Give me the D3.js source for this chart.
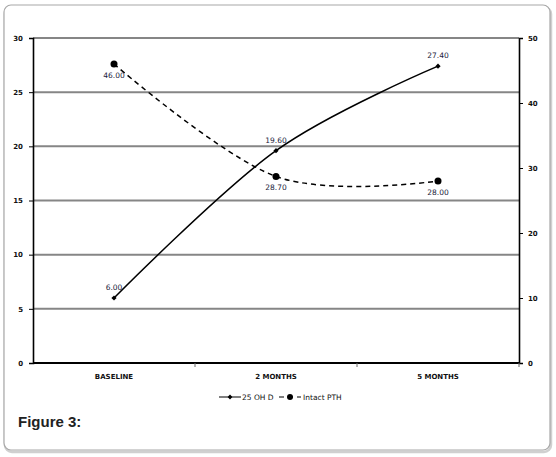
<!DOCTYPE html>
<html><head><meta charset="utf-8">
<script src="https://cdn.jsdelivr.net/npm/d3@7"></script>
<style>body{margin:0;background:#fff;}svg{display:block;}</style>
</head><body>
<svg id="c" width="556" height="457"></svg>
<script>
const categories = ["BASELINE", "2 MONTHS", "5 MONTHS"];
const ohd = [6.00, 19.60, 27.40];
const pth = [46.00, 28.70, 28.00];
const leftTicks = [0, 5, 10, 15, 20, 25, 30];
const rightTicks = [0, 10, 20, 30, 40, 50];
const seriesNames = ["25 OH D", "Intact PTH"];

const svg = d3.select("#c");
const L = 33, R = 519, T = 38, B = 363;
const font = "Tahoma, 'DejaVu Sans', sans-serif";

// frame
svg.append("rect").attr("x", 5).attr("y", 7).attr("width", 546).attr("height", 445)
  .attr("rx", 7).attr("fill", "none").attr("stroke", "#d0d0d0").attr("stroke-width", 2.5);
svg.append("rect").attr("x", 4).attr("y", 5).attr("width", 546).attr("height", 445)
  .attr("rx", 7).attr("fill", "#fff").attr("stroke", "#a8a8a8").attr("stroke-width", 1.2);

const x = d3.scaleBand().domain(categories).range([L, R]);
const yL = d3.scaleLinear().domain([0, 30]).range([B, T]);
const yR = d3.scaleLinear().domain([0, 50]).range([B, T]);

// gridlines
svg.append("g").selectAll("line").data(leftTicks.filter(d => d > 0)).join("line")
  .attr("x1", L).attr("x2", R).attr("y1", d => yL(d)).attr("y2", d => yL(d))
  .attr("stroke", "#868686").attr("stroke-width", 2);

// left axis
const gl = svg.append("g").attr("transform", `translate(${L},0)`)
  .call(d3.axisLeft(yL).tickValues(leftTicks).tickSize(4).tickPadding(6).tickFormat(d3.format("d")));
// right axis
const gr = svg.append("g").attr("transform", `translate(${R},0)`)
  .call(d3.axisRight(yR).tickValues(rightTicks).tickSize(4).tickPadding(5).tickFormat(d3.format("d")));
// bottom axis
const gb = svg.append("g").attr("transform", `translate(0,${B})`)
  .call(d3.axisBottom(x).tickSize(0).tickPadding(11));
// band boundary ticks
svg.append("g").selectAll("line").data(categories).join("line")
  .attr("x1", d => x(d) + x.bandwidth()).attr("x2", d => x(d) + x.bandwidth())
  .attr("y1", B).attr("y2", B + 4).attr("stroke", "#666").attr("stroke-width", 1);

[gl, gr, gb].forEach(g => {
  g.select(".domain").attr("stroke", "#000").attr("stroke-width", 1.6);
  g.selectAll(".tick line").attr("stroke", "#000");
  g.selectAll("text").attr("font-family", font).attr("font-size", 7).attr("font-weight", "bold").attr("fill", "#111");
});
gb.select(".domain").attr("d", `M${L},0H${R}`).attr("stroke-width", 1.8);

const cx = d => x(d) + x.bandwidth() / 2;
const curve = d3.curveCardinal.tension(0);

// 25 OH D line
const lineL = d3.line().x((d, i) => cx(categories[i])).y(d => yL(d)).curve(curve);
svg.append("path").attr("d", lineL(ohd)).attr("fill", "none").attr("stroke", "#000").attr("stroke-width", 1.5);
// PTH line
const lineR = d3.line().x((d, i) => cx(categories[i])).y(d => yR(d)).curve(curve);
svg.append("path").attr("d", lineR(pth)).attr("fill", "none").attr("stroke", "#000")
  .attr("stroke-width", 1.5).attr("stroke-dasharray", "5,4");

// markers
svg.append("g").selectAll("path").data(ohd).join("path")
  .attr("transform", (d, i) => `translate(${cx(categories[i])},${yL(d)})`)
  .attr("d", "M0,-2.6L2.6,0L0,2.6L-2.6,0Z").attr("fill", "#000");
svg.append("g").selectAll("circle").data(pth).join("circle")
  .attr("cx", (d, i) => cx(categories[i])).attr("cy", d => yR(d)).attr("r", 3.5).attr("fill", "#000");

// data labels
const lblStyle = s => s.attr("font-family", font).attr("font-size", 7.5).attr("fill", "#1a1a3a").attr("text-anchor", "middle");
svg.append("g").selectAll("text").data(ohd).join("text")
  .attr("x", (d, i) => cx(categories[i])).attr("y", d => yL(d) - 8)
  .text(d => d.toFixed(2)).call(lblStyle);
svg.append("g").selectAll("text").data(pth).join("text")
  .attr("x", (d, i) => cx(categories[i])).attr("y", d => yR(d) + 14)
  .text(d => d.toFixed(2)).call(lblStyle);

// legend
const lg = svg.append("g");
lg.append("line").attr("x1", 219).attr("x2", 241).attr("y1", 397).attr("y2", 397).attr("stroke", "#555").attr("stroke-width", 1.5);
lg.append("path").attr("transform", "translate(230,397)").attr("d", "M0,-2.4L2.4,0L0,2.4L-2.4,0Z").attr("fill", "#000");
lg.append("text").attr("x", 242).attr("y", 400).text(seriesNames[0])
  .attr("font-family", font).attr("font-size", 7.5).attr("fill", "#111");
lg.append("line").attr("x1", 279).attr("x2", 301).attr("y1", 397).attr("y2", 397).attr("stroke", "#555")
  .attr("stroke-width", 1.5).attr("stroke-dasharray", "5,4");
lg.append("circle").attr("cx", 290).attr("cy", 397).attr("r", 3).attr("fill", "#000");
lg.append("text").attr("x", 303).attr("y", 400).text(seriesNames[1])
  .attr("font-family", font).attr("font-size", 7.5).attr("fill", "#111");

// figure caption
svg.append("text").attr("x", 18).attr("y", 427).text("Figure 3:")
  .attr("font-family", "Arial, 'Liberation Sans', sans-serif").attr("font-size", 15).attr("font-weight", "bold").attr("fill", "#222");
</script>
</body></html>
